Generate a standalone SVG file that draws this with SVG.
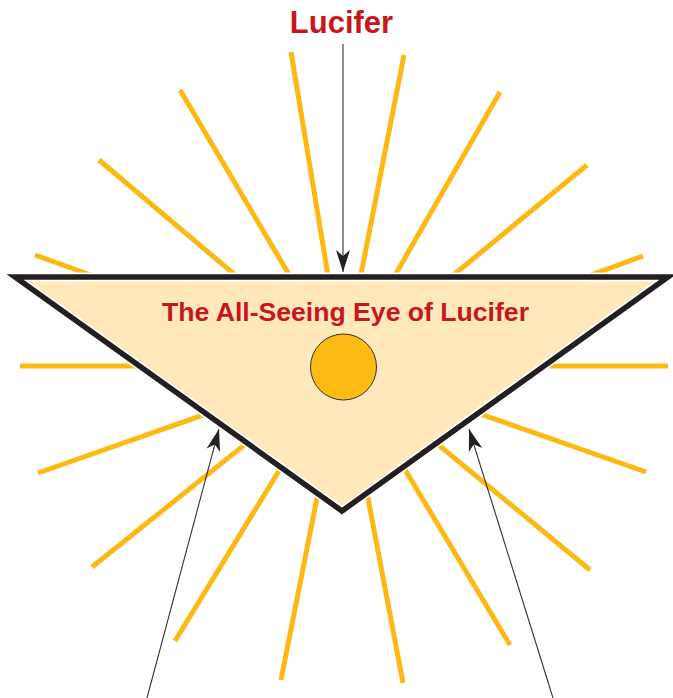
<svg xmlns="http://www.w3.org/2000/svg" width="673" height="698" viewBox="0 0 673 698">
<defs>
<style>
.ray{stroke:#FDB913;stroke-width:5;stroke-linecap:butt;fill:none}
.lbl{font-family:"Liberation Sans",Arial,sans-serif;font-weight:bold;fill:#C8161D;text-anchor:middle}
.ptr{stroke:#333;stroke-width:1.1;fill:none;marker-end:url(#ah)}
</style>
<marker id="ah" markerUnits="userSpaceOnUse" markerWidth="30" markerHeight="20" viewBox="-24 -10 26 20" refX="0" refY="0" orient="auto">
<path d="M0,0 L-22,-7 L-16,0 L-22,7 Z" fill="#222"/>
</marker>
</defs>
<rect width="673" height="698" fill="#fff"/>
<g id="rays">
<line class="ray" x1="343" y1="366" x2="291" y2="52"/>
<line class="ray" x1="343" y1="366" x2="404" y2="55"/>
<line class="ray" x1="343" y1="366" x2="180" y2="90"/>
<line class="ray" x1="343" y1="366" x2="500" y2="92"/>
<line class="ray" x1="343" y1="366" x2="99" y2="160"/>
<line class="ray" x1="343" y1="366" x2="587" y2="165"/>
<line class="ray" x1="343" y1="366" x2="35" y2="255"/>
<line class="ray" x1="343" y1="366" x2="643" y2="256"/>
<line class="ray" x1="343" y1="366" x2="20" y2="366"/>
<line class="ray" x1="343" y1="366" x2="668" y2="366"/>
<line class="ray" x1="343" y1="366" x2="38" y2="473"/>
<line class="ray" x1="343" y1="366" x2="646" y2="472"/>
<line class="ray" x1="343" y1="366" x2="92" y2="567"/>
<line class="ray" x1="343" y1="366" x2="590" y2="570"/>
<line class="ray" x1="343" y1="366" x2="175" y2="641"/>
<line class="ray" x1="343" y1="366" x2="510" y2="645"/>
<line class="ray" x1="343" y1="366" x2="281" y2="680"/>
<line class="ray" x1="343" y1="366" x2="403" y2="683"/>
</g>
<g id="eye">
<polygon points="15,277 668,277 342,511" fill="#FFE8BC" stroke="#fff" stroke-width="9" stroke-linejoin="miter"/>
<polygon points="15,277 668,277 342,511" fill="none" stroke="#231F20" stroke-width="5.5" stroke-linejoin="miter" stroke-miterlimit="10"/>
<text class="lbl" x="345.5" y="321" font-size="26.6">The All-Seeing Eye of Lucifer</text>
<circle cx="343.5" cy="367" r="33" fill="#FDBB13" stroke="#333" stroke-width="1"/>
</g>
<g id="lucifer">
<text class="lbl" x="341.5" y="33" font-size="31">Lucifer</text>
</g>
<g id="connectors">
<line class="ptr" x1="343" y1="44" x2="343" y2="272"/>
<line class="ptr" x1="147" y1="698" x2="219" y2="429"/>
<line class="ptr" x1="553" y1="698" x2="469" y2="429"/>
</g>
</svg>
